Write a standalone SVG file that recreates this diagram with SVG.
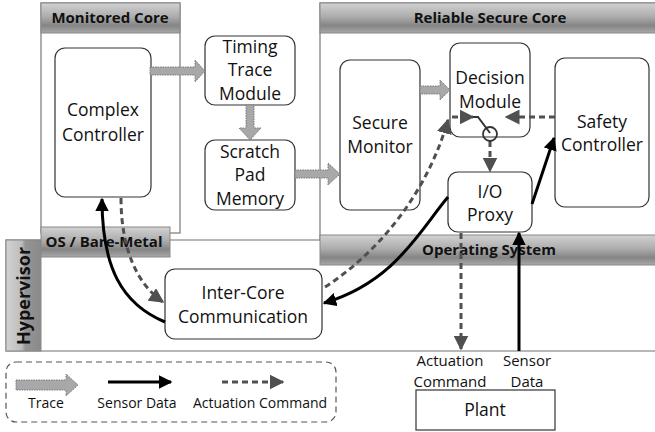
<svg xmlns="http://www.w3.org/2000/svg" width="655" height="432" viewBox="0 0 655 432">
  <defs>
    <linearGradient id="bandV" x1="0" y1="0" x2="0" y2="1">
      <stop offset="0" stop-color="#d2d2d2"/>
      <stop offset="0.45" stop-color="#adadad"/>
      <stop offset="0.75" stop-color="#858585"/>
      <stop offset="1" stop-color="#a8a8a8"/>
    </linearGradient>
    <linearGradient id="bandH" x1="0" y1="0" x2="1" y2="0">
      <stop offset="0" stop-color="#d2d2d2"/>
      <stop offset="0.45" stop-color="#bdbdbd"/>
      <stop offset="0.55" stop-color="#959595"/>
      <stop offset="1" stop-color="#8a8a8a"/>
    </linearGradient>
    <marker id="headSolid" viewBox="0 0 10 10" refX="9" refY="5" markerWidth="4.5" markerHeight="4.5" orient="auto" markerUnits="strokeWidth">
      <path d="M0,0 L10,5 L0,10 z" fill="#000"/>
    </marker>
    <marker id="headDash" viewBox="0 0 10 10" refX="9" refY="5" markerWidth="5" markerHeight="5" orient="auto" markerUnits="strokeWidth">
      <path d="M0,0 L10,5 L0,10 z" fill="#505050"/>
    </marker>
  </defs>
  <style>
    text { font-family: "Open Sans", "Liberation Sans", sans-serif; fill: #111; }
    .lbl { font-size: 17.5px; text-anchor: middle; }
    .hdr { font-size: 15px; font-weight: bold; text-anchor: middle; }
    .vhdr { font-size: 18px; font-weight: bold; text-anchor: middle; }
    .small { font-size: 15px; text-anchor: middle; }
    .leg { font-size: 14px; text-anchor: middle; }
    .node { fill: #fff; stroke: #333; stroke-width: 1.2; }
    .frame { fill: #fff; stroke: #777; stroke-width: 1.2; }
    .band { fill: url(#bandV); stroke: #888; stroke-width: 1; }
    .trace { fill: #a8a8a8; stroke: #7a7a7a; stroke-width: 1; stroke-dasharray: 1.5 1; }
    .sensor { fill: none; stroke: #000; stroke-width: 3; }
    .act { fill: none; stroke: #505050; stroke-width: 3; stroke-dasharray: 6 4; }
  </style>

  <!-- hypervisor layer -->
  <g id="hypervisor">
    <rect x="6" y="240" width="660" height="111" fill="#fff" stroke="#888" stroke-width="1.2"/>
    <rect x="6" y="240" width="35" height="111" fill="url(#bandH)" stroke="#888" stroke-width="1"/>
    <text class="vhdr" transform="translate(30,296) rotate(-90)">Hypervisor</text>
  </g>

  <!-- monitored core -->
  <g id="monitored-core">
    <rect class="frame" x="41" y="3" width="139" height="230"/>
    <rect class="band" x="41" y="3" width="139" height="30"/>
    <text class="hdr" x="110" y="23">Monitored Core</text>
  </g>
  <g id="os-bare-metal">
    <rect class="band" x="41" y="227" width="129" height="30"/>
    <text class="hdr" x="104" y="247">OS / Bare-Metal</text>
  </g>

  <!-- reliable secure core -->
  <g id="reliable-secure-core">
    <rect class="frame" x="320" y="3" width="345" height="237"/>
    <rect class="band" x="320" y="3" width="345" height="30"/>
    <text class="hdr" x="490" y="23">Reliable Secure Core</text>
  </g>
  <g id="operating-system">
    <rect class="band" x="320" y="235" width="345" height="30"/>
    <text class="hdr" x="489" y="255">Operating System</text>
  </g>

  <!-- nodes -->
  <g id="complex-controller">
    <rect class="node" x="55" y="48" width="96" height="149" rx="10"/>
    <text class="lbl" x="103" y="116">Complex</text>
    <text class="lbl" x="103" y="141">Controller</text>
  </g>
  <g id="timing-trace-module">
    <rect class="node" x="205" y="36" width="90" height="69" rx="10"/>
    <text class="lbl" x="250" y="53">Timing</text>
    <text class="lbl" x="250" y="76">Trace</text>
    <text class="lbl" x="250" y="100">Module</text>
  </g>
  <g id="scratch-pad-memory">
    <rect class="node" x="205" y="140" width="90" height="70" rx="10"/>
    <text class="lbl" x="250" y="158">Scratch</text>
    <text class="lbl" x="250" y="181">Pad</text>
    <text class="lbl" x="250" y="205">Memory</text>
  </g>
  <g id="secure-monitor">
    <rect class="node" x="340" y="60" width="80" height="150" rx="10"/>
    <text class="lbl" x="380" y="129">Secure</text>
    <text class="lbl" x="380" y="153">Monitor</text>
  </g>
  <g id="decision-module">
    <rect class="node" x="450" y="43" width="80" height="94" rx="10"/>
    <text class="lbl" x="490" y="84">Decision</text>
    <text class="lbl" x="490" y="108">Module</text>
  </g>
  <g id="safety-controller">
    <rect class="node" x="555" y="58" width="94" height="149" rx="10"/>
    <text class="lbl" x="602" y="128">Safety</text>
    <text class="lbl" x="602" y="151">Controller</text>
  </g>
  <g id="io-proxy">
    <rect class="node" x="448" y="172" width="84" height="60" rx="10"/>
    <text class="lbl" x="490" y="198">I/O</text>
    <text class="lbl" x="490" y="221">Proxy</text>
  </g>
  <g id="inter-core-communication">
    <rect class="node" x="165" y="269" width="157" height="70" rx="10"/>
    <text class="lbl" x="243" y="299">Inter-Core</text>
    <text class="lbl" x="243" y="323">Communication</text>
  </g>
  <g id="plant">
    <rect x="416" y="390" width="139" height="40" fill="#fff" stroke="#333" stroke-width="1.2"/>
    <text class="lbl" x="485" y="416">Plant</text>
  </g>

  <!-- connectors -->
  <g id="connectors">
    <!-- trace flow -->
    <path class="trace" d="M150,67 H195 V60 L205,71 L195,82 V75 H150 z"/>
    <path class="trace" d="M246,105 V128 H239 L250,140 L261,128 H254 V105 z"/>
    <path class="trace" d="M295,170 H328 V163 L340,174 L328,185 V178 H295 z"/>
    <path class="trace" d="M420,86 H440 V80 L450,90 L440,100 V94 H420 z"/>

    <!-- sensor data -->
    <path class="sensor" d="M165,322 C122,304 102,268 102,199" marker-end="url(#headSolid)"/>
    <path class="sensor" d="M448,197 C420,230 395,282 324,303" marker-end="url(#headSolid)"/>
    <path class="sensor" d="M532,204 L554,138" marker-end="url(#headSolid)"/>
    <path class="sensor" d="M519,351 V233" marker-end="url(#headSolid)"/>

    <!-- actuation commands -->
    <path class="act" d="M121,198 C121,250 138,285 163,302" marker-end="url(#headDash)"/>
    <path class="act" d="M325,287 C382,250 428,190 448,120" marker-end="url(#headDash)"/>
    <path class="act" d="M452,117 H473" marker-end="url(#headDash)"/>
    <path class="act" d="M555,117 H506" marker-end="url(#headDash)"/>
    <path class="act" d="M490,141 V171" marker-end="url(#headDash)"/>
    <path class="act" d="M461,233 V349" marker-end="url(#headDash)"/>

    <!-- switch inside the decision module -->
    <path d="M473,117 H478 L490,133" fill="none" stroke="#333" stroke-width="2"/>
    <circle cx="490" cy="134" r="7" fill="none" stroke="#333" stroke-width="1.8"/>
  </g>

  <!-- plant labels -->
  <g id="plant-labels">
    <text class="small" x="450" y="366">Actuation</text>
    <text class="small" x="450" y="387">Command</text>
    <text class="small" x="527" y="366">Sensor</text>
    <text class="small" x="527" y="387">Data</text>
  </g>

  <!-- legend -->
  <g id="legend">
    <rect x="6" y="362" width="330" height="60" rx="10" fill="none" stroke="#555" stroke-width="1.2" stroke-dasharray="6 4"/>
    <path class="trace" d="M16,380 H66 V374 L78,385 L66,396 V390 H16 z"/>
    <text class="leg" x="46" y="408">Trace</text>
    <path class="sensor" d="M108,382 H171" marker-end="url(#headSolid)"/>
    <text class="leg" x="137" y="408">Sensor Data</text>
    <path class="act" d="M222,382 H283" marker-end="url(#headDash)"/>
    <text class="leg" x="260" y="408">Actuation Command</text>
  </g>
</svg>
